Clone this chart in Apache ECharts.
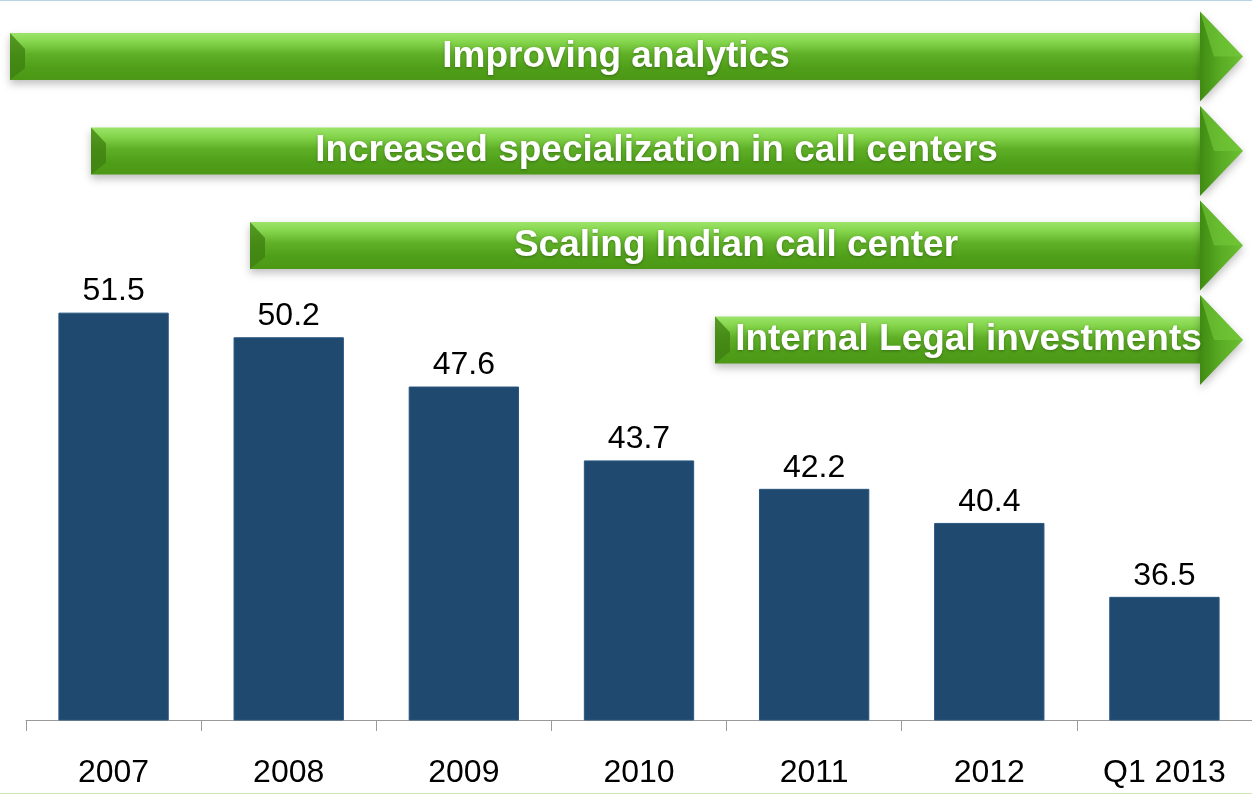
<!DOCTYPE html>
<html>
<head>
<meta charset="utf-8">
<script src="https://cdn.jsdelivr.net/npm/echarts@6/dist/echarts.min.js"></script>
<style>
  html, body { margin: 0; padding: 0; background: #fff; }
  #main { width: 1252px; height: 794px; }
</style>
</head>
<body>
<div id="main"></div>
<script>
// data
var categories = ['2007', '2008', '2009', '2010', '2011', '2012', 'Q1 2013'];
var values = [51.5, 50.2, 47.6, 43.7, 42.2, 40.4, 36.5];
var arrowLabels = [
  'Improving analytics',
  'Increased specialization in call centers',
  'Scaling Indian call center',
  'Internal Legal investments'
];
var arrowStarts = [10, 91, 250, 715]; // left end of each arrow, px

var chart = echarts.init(document.getElementById('main'));

// build the green arrows
function makeArrow(i) {
  var left = arrowStarts[i];
  var top = 33 + i * 94.5;     // body top
  var bh = 47;                 // body height
  var headX = 1200;
  var tipX = 1243;
  var mid = top + bh / 2;
  var els = [];
  els.push({
    type: 'rect',
    shape: { x: left, y: top, width: headX - left + 2, height: bh },
    style: {
      fill: new echarts.graphic.LinearGradient(0, 0, 0, 1, [
        { offset: 0, color: '#9ce46a' },
        { offset: 0.18, color: '#86d64e' },
        { offset: 0.45, color: '#5fb027' },
        { offset: 0.75, color: '#4f9e19' },
        { offset: 1, color: '#4c9816' }
      ]),
      shadowBlur: 8,
      shadowOffsetY: 4,
      shadowColor: 'rgba(0,0,0,0.25)'
    },
    z: 10
  });
  // bevel at left end
  els.push({
    type: 'polygon',
    shape: { points: [[left, top], [left + 15, top + 16], [left + 15, top + bh - 12], [left, top + bh]] },
    style: { fill: '#3f7f12', opacity: 0.75 },
    z: 11
  });
  // arrow head
  els.push({
    type: 'polygon',
    shape: { points: [[headX, mid - 45], [tipX, mid], [headX, mid + 45]] },
    style: {
      fill: new echarts.graphic.LinearGradient(0, 0, 1, 0, [
        { offset: 0, color: '#3f8a12' },
        { offset: 0.5, color: '#5aad24' },
        { offset: 1, color: '#6cc032' }
      ]),
      shadowBlur: 8,
      shadowOffsetY: 4,
      shadowColor: 'rgba(0,0,0,0.25)'
    },
    z: 10
  });
  els.push({
    type: 'polygon',
    shape: { points: [[headX, mid - 45], [tipX, mid], [headX + 14, mid]] },
    style: { fill: '#74c93a', opacity: 0.6 },
    z: 11
  });
  // label
  els.push({
    type: 'text',
    x: (left + 1222) / 2,
    y: mid,
    style: {
      text: arrowLabels[i],
      fill: '#ffffff',
      font: 'bold 37px "Liberation Sans", Arial, sans-serif',
      textAlign: 'center',
      textVerticalAlign: 'middle',
      textShadowBlur: 3,
      textShadowColor: 'rgba(0,0,0,0.3)',
      textShadowOffsetY: 1
    },
    z: 12
  });
  return els;
}

var graphics = [];
for (var i = 0; i < arrowLabels.length; i++) {
  graphics = graphics.concat(makeArrow(i));
}
// thin frame lines at top and bottom
graphics.push({ type: 'line', shape: { x1: 0, y1: 0.5, x2: 1252, y2: 0.5 }, style: { stroke: '#b7d3e6', lineWidth: 1 }, z: 1 });
graphics.push({ type: 'line', shape: { x1: 0, y1: 793.5, x2: 1252, y2: 793.5 }, style: { stroke: '#cfe8b8', lineWidth: 1 }, z: 1 });

var option = {
  backgroundColor: '#ffffff',
  animation: false,
  grid: { left: 26, right: 0, top: 0, bottom: 74 },
  xAxis: {
    type: 'category',
    data: categories,
    axisLine: { lineStyle: { color: '#9a9a9a', width: 1 } },
    axisTick: { show: true, length: 11, lineStyle: { color: '#9a9a9a' } },
    axisLabel: {
      color: '#000',
      fontSize: 32,
      fontFamily: '"Liberation Sans", Arial, sans-serif',
      margin: 37
    }
  },
  yAxis: {
    type: 'value',
    min: 30,
    max: 68,
    show: false,
    splitLine: { show: false }
  },
  series: [{
    type: 'bar',
    data: values,
    barWidth: '63%',
    itemStyle: { color: '#1f496e', borderColor: '#2a5680', borderWidth: 1 },
    label: {
      show: true,
      position: 'top',
      distance: 5,
      color: '#000',
      fontSize: 32,
      fontFamily: '"Liberation Sans", Arial, sans-serif'
    }
  }],
  graphic: graphics
};

chart.setOption(option);
</script>
</body>
</html>
